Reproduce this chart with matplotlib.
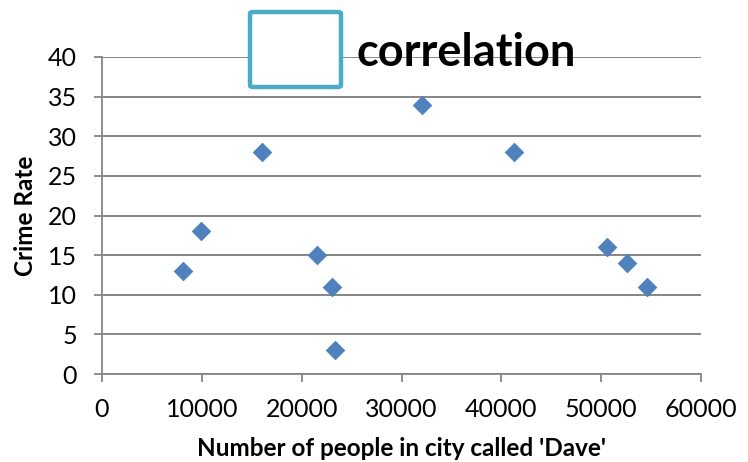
import matplotlib
matplotlib.use("Agg")
import matplotlib.pyplot as plt
from matplotlib.patches import FancyBboxPatch

# Daves per city vs crime rate
daves = [8100, 9900, 16000, 21500, 23000, 23300, 32100, 41300, 50600, 52600, 54600]
crime = [13, 18, 28, 15, 11, 3, 34, 28, 16, 14, 11]

x_ticks = [0, 10000, 20000, 30000, 40000, 50000, 60000]
y_ticks = [0, 5, 10, 15, 20, 25, 30, 35, 40]

plt.rcParams['font.family'] = ['Lato', 'DejaVu Sans']
grey = '#868686'

fig = plt.figure(figsize=(7.48, 4.62), dpi=100)
ax = fig.add_axes([102 / 748, 88 / 462, 599 / 748, 317 / 462])

ax.scatter(daves, crime, marker='D', s=9.5 ** 2, color='#4F81BD',
           edgecolors='#4A7EBB', linewidths=0.5, zorder=3)

ax.set_xlim(0, 60000)
ax.set_ylim(0, 40)
ax.set_xticks(x_ticks)
ax.set_yticks(y_ticks)
ax.tick_params(axis='both', labelsize=18, colors=grey, labelcolor='black',
               length=6, width=1.3, direction='out')
ax.tick_params(axis='x', pad=11)
ax.tick_params(axis='y', pad=12)

ax.yaxis.grid(True, color=grey, linewidth=1.4)
ax.set_axisbelow(True)
for side in ['top', 'right']:
    ax.spines[side].set_visible(False)
for side in ['left', 'bottom']:
    ax.spines[side].set_color(grey)
    ax.spines[side].set_linewidth(1.3)

ax.set_xlabel("Number of people in city called 'Dave'", fontsize=17.5,
              fontweight='bold', labelpad=12)
ax.set_ylabel("Crime Rate", fontsize=17.5, fontweight='bold', labelpad=8)

# empty answer box next to the title
box = FancyBboxPatch((250 / 748, 1 - 87 / 462), 91 / 748, 75 / 462,
                     boxstyle='round,pad=0,rounding_size=0.004',
                     transform=fig.transFigure, facecolor='white',
                     edgecolor='#4BACC6', linewidth=3.2, zorder=5)
fig.add_artist(box)
fig.text(357 / 748, 1 - 53 / 462, "correlation", fontsize=32.5,
         fontweight='bold', va='center', ha='left')

fig.savefig('out.png', dpi=100)
